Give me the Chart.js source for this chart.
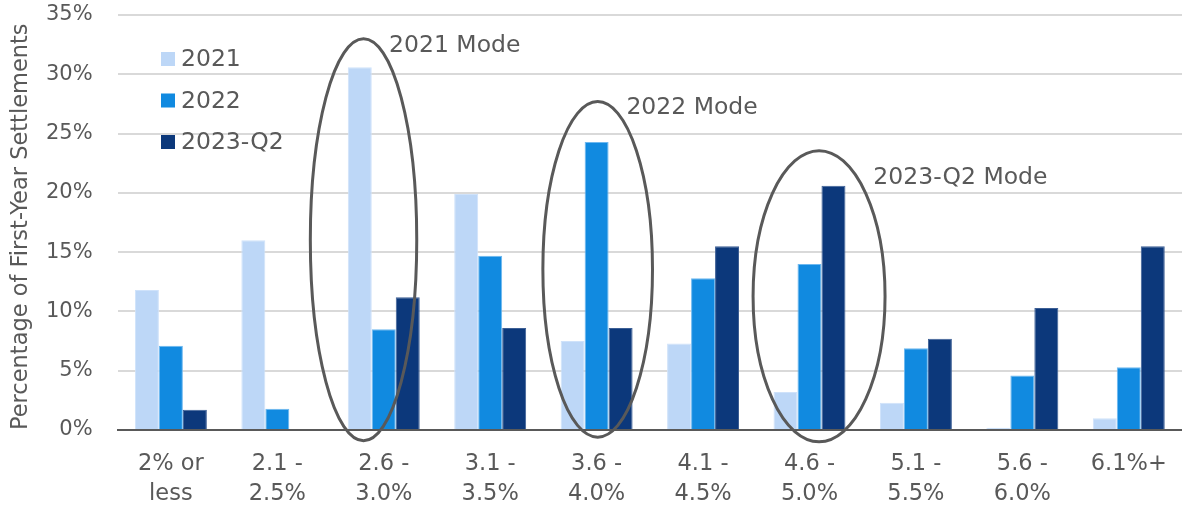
<!DOCTYPE html>
<html>
<head>
<meta charset="utf-8">
<script src="https://cdn.jsdelivr.net/npm/chart.js@4/dist/chart.umd.min.js"></script>
<style>
  html, body { margin: 0; padding: 0; background: #fff; }
  #wrap { width: 1182px; height: 507px; }
</style>
</head>
<body>
<div id="wrap"><canvas id="chart"></canvas></div>
<script>
const categories = [
  ['2% or', 'less'], ['2.1 -', '2.5%'], ['2.6 -', '3.0%'], ['3.1 -', '3.5%'], ['3.6 -', '4.0%'],
  ['4.1 -', '4.5%'], ['4.6 -', '5.0%'], ['5.1 -', '5.5%'], ['5.6 -', '6.0%'], '6.1%+'
];
const seriesNames = ['2021', '2022', '2023-Q2'];
const values2021 = [11.8, 16.0, 30.6, 19.9, 7.5, 7.3, 3.2, 2.3, 0.2, 1.0];
const values2022 = [7.1, 1.8, 8.5, 14.7, 24.3, 12.8, 14.0, 6.9, 4.6, 5.3];
const values2023 = [1.7, 0, 11.2, 8.6, 8.6, 15.5, 20.6, 7.7, 10.3, 15.5];
const yTicks = [0, 5, 10, 15, 20, 25, 30, 35];

// mode callouts: ellipse centre (category index), top/bottom (%), half width (categories), label
const modeNotes = [
  { text: '2021 Mode', cx: 1.81, top: 33.0, bottom: -0.9, half: 0.5, lx: 2.05, ly: 32.4 },
  { text: '2022 Mode', cx: 4.01, top: 27.7, bottom: -0.6, half: 0.515, lx: 4.28, ly: 27.15 },
  { text: '2023-Q2 Mode', cx: 6.09, top: 23.55, bottom: -1.0, half: 0.62, lx: 6.6, ly: 21.25 }
];

const colors = ['#bdd7f7', '#118ae0', '#0c387b'];
const edges = ['#cfe2fa', '#6db8f0', '#3d5f95'];
const textColor = '#595959';
const font = '"DejaVu Sans", Verdana, sans-serif';

const modePlugin = {
  id: 'modes',
  afterDatasetsDraw(chart) {
    const { ctx, scales: { x, y } } = chart;
    const step = x.getPixelForValue(1) - x.getPixelForValue(0);
    ctx.save();
    modeNotes.forEach(n => {
      const cx = x.getPixelForValue(0) + n.cx * step;
      const t = y.getPixelForValue(n.top);
      const b = y.getPixelForValue(n.bottom);
      ctx.beginPath();
      ctx.ellipse(cx, (t + b) / 2, n.half * step, (b - t) / 2, 0, 0, Math.PI * 2);
      ctx.lineWidth = 3;
      ctx.strokeStyle = textColor;
      ctx.stroke();
      ctx.fillStyle = textColor;
      ctx.font = '23.5px ' + font;
      ctx.textAlign = 'left';
      ctx.textBaseline = 'middle';
      ctx.fillText(n.text, x.getPixelForValue(0) + n.lx * step, y.getPixelForValue(n.ly));
    });
    ctx.restore();
  }
};

const legendPlugin = {
  id: 'innerLegend',
  afterDraw(chart) {
    const { ctx } = chart;
    ctx.save();
    ctx.font = '23.5px ' + font;
    ctx.textBaseline = 'middle';
    ctx.textAlign = 'left';
    chart.data.datasets.forEach((ds, i) => {
      const cy = 59 + i * 41.5;
      ctx.fillStyle = ds.backgroundColor;
      ctx.fillRect(161, cy - 7, 14, 14);
      ctx.fillStyle = textColor;
      ctx.fillText(ds.label, 181, cy + 1);
    });
    ctx.restore();
  }
};

new Chart(document.getElementById('chart'), {
  type: 'bar',
  data: {
    labels: categories,
    datasets: [values2021, values2022, values2023].map((vals, i) => ({
      label: seriesNames[i],
      data: vals,
      backgroundColor: colors[i],
      borderColor: edges[i],
      borderWidth: 1,
      categoryPercentage: 0.676,
      barPercentage: 1
    }))
  },
  options: {
    responsive: true,
    maintainAspectRatio: false,
    animation: false,
    layout: { padding: { top: 15, right: 0, left: 8, bottom: -21 } },
    plugins: {
      legend: { display: false },
      tooltip: { enabled: false }
    },
    scales: {
      x: {
        afterFit: axis => { axis.paddingLeft = 0; axis.paddingRight = 0; },
        grid: { display: false, drawTicks: false },
        border: { display: true, color: textColor, width: 2 },
        ticks: {
          color: textColor,
          font: { family: font, size: 22.5, lineHeight: 1.333 },
          padding: 19,
          maxRotation: 0,
          autoSkip: false
        }
      },
      y: {
        min: 0,
        max: 35,
        afterBuildTicks: axis => { axis.ticks = yTicks.map(v => ({ value: v })); },
        afterFit: axis => { axis.paddingTop = 0; },
        grid: { color: '#d9d9d9', lineWidth: 2, drawTicks: false },
        border: { display: false },
        ticks: {
          color: textColor,
          font: { family: font, size: 21 },
          padding: 25,
          callback: v => v + '%'
        },
        title: {
          display: true,
          text: 'Percentage of First-Year Settlements',
          align: 'start',
          color: textColor,
          font: { family: font, size: 22.5 },
          padding: { top: 0, bottom: -14 }
        }
      }
    }
  },
  plugins: [modePlugin, legendPlugin]
});
</script>
</body>
</html>
